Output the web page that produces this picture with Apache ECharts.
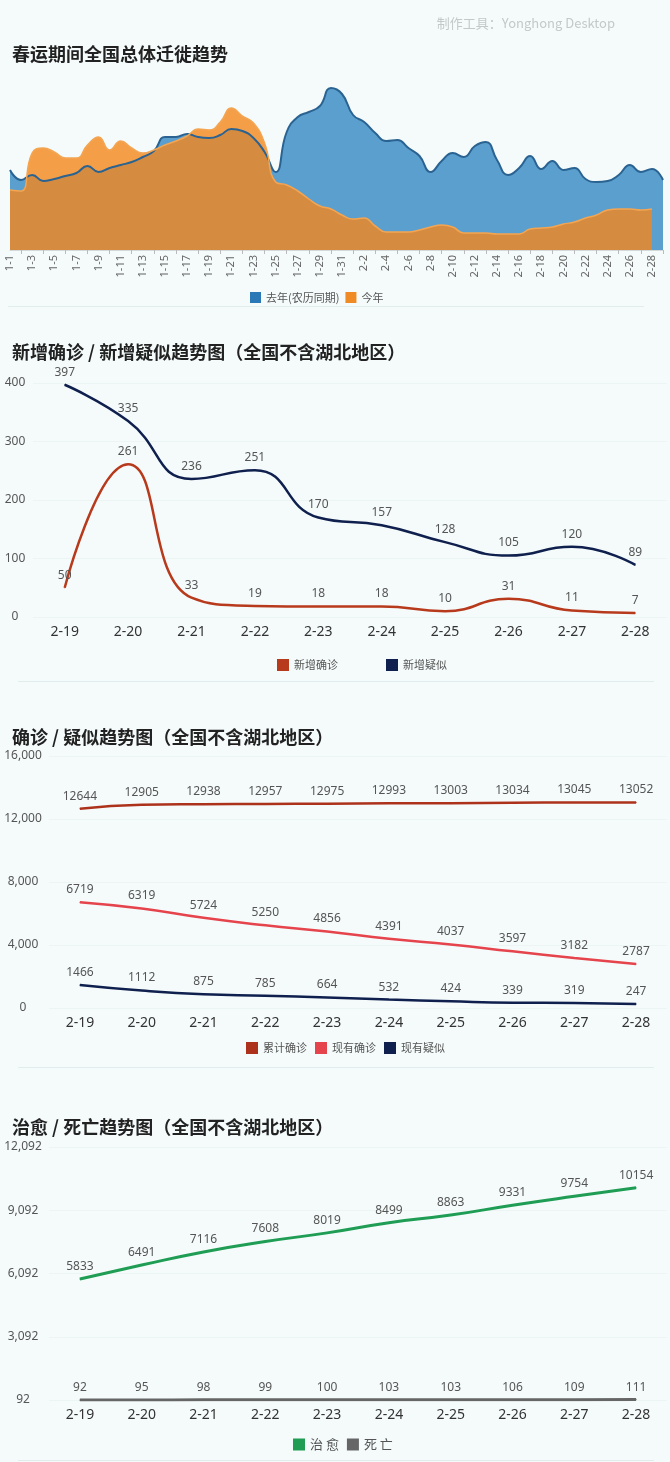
<!DOCTYPE html>
<html>
<head>
<meta charset="utf-8">
<script src="https://cdn.jsdelivr.net/npm/echarts@6/dist/echarts.min.js"></script>
<style>
  body { margin: 0; background: #f5fbfb; width: 670px; height: 1462px; position: relative; overflow: hidden; }
  .box { position: absolute; left: 0; width: 670px; }
  .sep { position: absolute; height: 1px; background: #e1eded; }
</style>
</head>
<body>
<div id="c1" class="box" style="top:0;height:310px"></div>
<div id="c2" class="box" style="top:310px;height:380px"></div>
<div id="c3" class="box" style="top:690px;height:380px"></div>
<div id="c4" class="box" style="top:1070px;height:392px"></div>
<div class="sep" style="top:306px;left:8px;width:636px"></div>
<div class="sep" style="top:681px;left:18px;width:636px"></div>
<div class="sep" style="top:1067px;left:18px;width:636px"></div>
<div class="sep" style="top:1460px;left:18px;width:636px"></div>
<script>
// 春运迁徙 (no scale shown in the picture, values are relative heights)
const springDays = ['1-1','1-2','1-3','1-4','1-5','1-6','1-7','1-8','1-9','1-10',
  '1-11','1-12','1-13','1-14','1-15','1-16','1-17','1-18','1-19','1-20',
  '1-21','1-22','1-23','1-24','1-25','1-26','1-27','1-28','1-29','1-30',
  '1-31','2-1','2-2','2-3','2-4','2-5','2-6','2-7','2-8','2-9',
  '2-10','2-11','2-12','2-13','2-14','2-15','2-16','2-17','2-18','2-19',
  '2-20','2-21','2-22','2-23','2-24','2-25','2-26','2-27','2-28','2-29'];
const lastYear = [80,70,75,69,71,74,77,84,78,82,85,88,93,99,113,113,116,113,112,115,
  121,119,112,98,78,118,133,138,144,162,156,135,128,117,109,110,102,94,78,89,
  97,93,104,108,90,75,82,94,81,89,80,82,71,68,69,75,85,78,81,70];
const thisYear = [60,59,97,102,98,92,92,105,113,100,109,102,97,100,105,109,114,121,120,128,
  142,134,127,107,68,65,59,51,44,41,35,31,32,24,18,18,18,20,23,25,
  23,17,17,17,16,16,16,21,22,23,26,28,32,35,40,41,41,40,41,null];

// 全国不含湖北地区 2-19 ~ 2-28
const days = ['2-19','2-20','2-21','2-22','2-23','2-24','2-25','2-26','2-27','2-28'];
const newConfirmed = [50,261,33,19,18,18,10,31,11,7];
const newSuspected = [397,335,236,251,170,157,128,105,120,89];
const totalConfirmed = [12644,12905,12938,12957,12975,12993,13003,13034,13045,13052];
const curConfirmed = [6719,6319,5724,5250,4856,4391,4037,3597,3182,2787];
const curSuspected = [1466,1112,875,785,664,532,424,339,319,247];
const cured = [5833,6491,7116,7608,8019,8499,8863,9331,9754,10154];
const dead = [92,95,98,99,100,103,103,106,109,111];

const FONT = "'Noto Sans', 'Noto Sans CJK SC', sans-serif";
const CJK = "'Noto Sans CJK SC', sans-serif";

// 图1：面积图
const chart1 = echarts.init(document.getElementById('c1'));
chart1.setOption({
  textStyle: { fontFamily: FONT },
  title: [
    { text: '制作工具：Yonghong Desktop', right: 50, top: 12,
      textStyle: { fontSize: 13, fontWeight: 'normal', color: '#c3c8c8', fontFamily: CJK } },
    { text: '春运期间全国总体迁徙趋势', left: 7, top: 40,
      textStyle: { fontSize: 18, fontWeight: 'bold', color: '#222', fontFamily: CJK } }
  ],
  legend: { left: 245, top: 287, icon: 'rect', itemWidth: 11, itemHeight: 11, itemGap: 6,
    textStyle: { fontSize: 11, color: '#555', fontFamily: CJK } },
  grid: { left: 10, right: 7, top: 80, height: 170, outerBoundsMode: 'none' },
  xAxis: {
    type: 'category', data: springDays, boundaryGap: false,
    axisLine: { lineStyle: { color: '#d3d9d9' } },
    axisTick: { interval: (i) => i % 2 === 1, length: 4, lineStyle: { color: '#bbb' } },
    axisLabel: { interval: 1, rotate: 90, fontSize: 11, color: '#666', margin: 5 }
  },
  yAxis: { type: 'value', min: 0, max: 170, show: false },
  series: [
    { name: '去年(农历同期)', type: 'line', data: lastYear, smooth: true, symbol: 'none',
      itemStyle: { color: '#2b78b6' },
      lineStyle: { color: '#2a6391', width: 2 },
      areaStyle: { color: '#5b9fcf', opacity: 1 } },
    { name: '今年', type: 'line', data: thisYear, smooth: true, symbol: 'none',
      itemStyle: { color: '#f08a24' },
      lineStyle: { color: '#f3a552', width: 1.5 },
      areaStyle: { color: 'rgb(245,135,28)', opacity: 0.8 } }
  ]
});

// 折线图公用
function lineOption(o) {
  return {
    textStyle: { fontFamily: FONT },
    title: { text: o.title, left: 7, top: o.titleTop,
      textStyle: { fontSize: 18, fontWeight: 'bold', color: '#222', fontFamily: CJK } },
    legend: { left: o.legendLeft, top: o.legendTop, icon: 'rect', itemWidth: 12, itemHeight: 12,
      itemGap: o.legendGap, formatter: o.legendFmt,
      textStyle: { fontSize: o.legendSize || 11, color: '#555', fontFamily: CJK } },
    grid: { left: o.left, right: 3, top: o.top, bottom: o.bottom, outerBoundsMode: 'none' },
    xAxis: {
      type: 'category', data: days, boundaryGap: true,
      axisLine: { show: false }, axisTick: { show: false },
      axisLabel: { interval: 0, fontSize: 14, color: '#333', margin: 8 }
    },
    yAxis: {
      type: 'value', min: o.min, max: o.max, interval: o.interval,
      axisLine: { show: false }, axisTick: { show: false },
      splitLine: { lineStyle: { color: '#ecf4f4' } },
      axisLabel: { align: 'center', margin: o.labelMargin, fontSize: 12, color: '#555',
        formatter: (v) => o.comma ? v.toLocaleString('en-US') : v }
    },
    series: o.series.map((s) => ({
      name: s.name, type: 'line', data: s.data, smooth: true,
      symbol: 'circle', symbolSize: 1, showSymbol: true,
      itemStyle: { color: s.color },
      lineStyle: { color: s.color, width: s.width || 2.5 },
      label: { show: true, position: 'top', distance: 6, fontSize: 12, color: '#555' }
    }))
  };
}

const chart2 = echarts.init(document.getElementById('c2'));
chart2.setOption(lineOption({
  title: '新增确诊 / 新增疑似趋势图（全国不含湖北地区）', titleTop: 28,
  legendLeft: 272, legendTop: 344, legendGap: 48,
  left: 33, top: 73, bottom: 73, labelMargin: 18,
  min: 0, max: 400, interval: 100,
  series: [
    { name: '新增确诊', data: newConfirmed, color: '#b83a1c' },
    { name: '新增疑似', data: newSuspected, color: '#10204e' }
  ]
}));

const chart3 = echarts.init(document.getElementById('c3'));
chart3.setOption(lineOption({
  title: '确诊 / 疑似趋势图（全国不含湖北地区）', titleTop: 33,
  legendLeft: 241, legendTop: 347, legendGap: 8,
  left: 49, top: 66, bottom: 62, labelMargin: 26, comma: true,
  min: 0, max: 16000, interval: 4000,
  series: [
    { name: '累计确诊', data: totalConfirmed, color: '#ad321c' },
    { name: '现有确诊', data: curConfirmed, color: '#e6444c' },
    { name: '现有疑似', data: curSuspected, color: '#10204e' }
  ]
}));

const chart4 = echarts.init(document.getElementById('c4'));
chart4.setOption(lineOption({
  title: '治愈 / 死亡趋势图（全国不含湖北地区）', titleTop: 43,
  legendLeft: 288, legendTop: 363, legendGap: 8, legendSize: 13,
  legendFmt: (n) => n.split('').join(' '),
  left: 49, top: 77, bottom: 62, labelMargin: 26, comma: true,
  min: 92, max: 12092, interval: 3000,
  series: [
    { name: '治愈', data: cured, color: '#1f9d55', width: 3 },
    { name: '死亡', data: dead, color: '#666666', width: 3 }
  ]
}));
</script>
</body>
</html>
